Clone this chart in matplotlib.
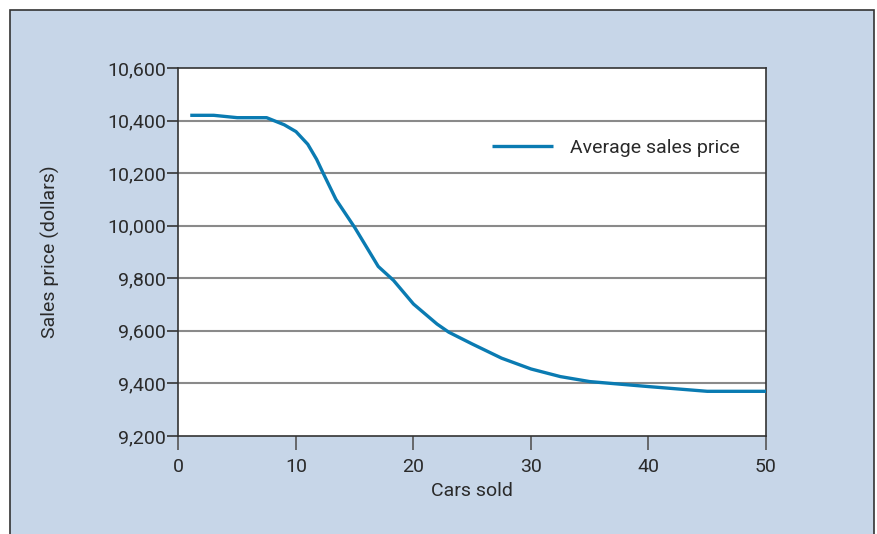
import matplotlib
matplotlib.use("Agg")
import matplotlib.pyplot as plt
from matplotlib.patches import Rectangle

plt.rcParams['font.family'] = ['Roboto', 'DejaVu Sans']

# average sales price vs number of cars sold
cars_sold = [1, 3, 5, 7.5, 9, 10, 11, 11.75, 12.3, 13.4, 15, 17, 18.3, 20,
             22, 23, 25, 27.5, 30, 32.5, 35, 40, 45, 50]
avg_price = [10420, 10420, 10411, 10411, 10384, 10358, 10310, 10253, 10201,
             10100, 9993, 9845, 9792, 9702, 9626, 9595, 9550, 9496, 9455,
             9426, 9407, 9388, 9370, 9370]

x_ticks = [0, 10, 20, 30, 40, 50]
y_ticks = [9200, 9400, 9600, 9800, 10000, 10200, 10400, 10600]
y_labels = ['9,200', '9,400', '9,600', '9,800', '10,000', '10,200', '10,400', '10,600']

W, H = 878, 534
fig = plt.figure(figsize=(W / 100, H / 100), dpi=100)
fig.patch.set_facecolor('white')

# blue panel behind the chart
panel = Rectangle((10 / W, -0.01), 864 / W, 1.01 - 10 / H, transform=fig.transFigure,
                  facecolor='#c7d6e8', edgecolor='#333333', linewidth=1.2, zorder=-10)
fig.patches.append(panel)

ax = fig.add_axes([178.5 / W, (H - 436) / H, (766 - 178.5) / W, (436 - 68) / H])
ax.set_facecolor('white')

for y in y_ticks[1:-1]:
    ax.axhline(y, color='#8a8a8a', linewidth=1.5, zorder=1)

ax.plot(cars_sold, avg_price, color='#0a7bb2', linewidth=2.4,
        label='Average sales price', zorder=3, solid_capstyle='butt')

ax.set_xlim(0, 50)
ax.set_ylim(9200, 10600)
ax.set_xticks(x_ticks)
ax.set_yticks(y_ticks)
ax.set_yticklabels(y_labels)

for s in ax.spines.values():
    s.set_color('#333333')
    s.set_linewidth(1.2)

ax.tick_params(axis='y', direction='out', length=8, width=1.2, color='#333333',
               labelsize=14, labelcolor='#2a2a2a', pad=1)
ax.tick_params(axis='x', direction='out', length=10, width=1.2, color='#555555',
               labelsize=14, labelcolor='#2a2a2a', pad=6)

ax.set_xlabel('Cars sold', fontsize=14, color='#2a2a2a', labelpad=4)
ax.set_ylabel('Sales price (dollars)', fontsize=14, color='#2a2a2a', labelpad=34)

leg = ax.legend(loc='center left', bbox_to_anchor=(0.534, 0.783), frameon=False,
                fontsize=14, handlelength=3.15, handletextpad=0.85,
                borderpad=0, borderaxespad=0)
for t in leg.get_texts():
    t.set_color('#2a2a2a')

fig.savefig('out.png', dpi=100)
